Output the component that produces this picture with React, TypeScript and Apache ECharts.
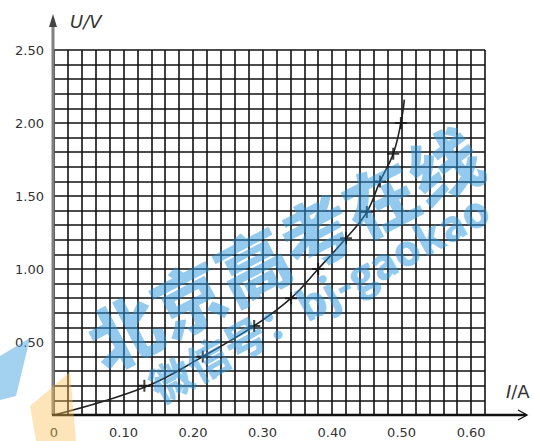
import React, { useEffect, useRef } from "react";
import * as echarts from "echarts";

// measured points (I in A, U in V)
const currentI = [0.13, 0.214, 0.288, 0.341, 0.38, 0.42, 0.45, 0.469, 0.488, 0.499];
const voltageU = [0.2, 0.4, 0.61, 0.8, 1.0, 1.21, 1.39, 1.6, 1.79, 2.0];
// fitted smooth curve drawn by hand through the points
const curveI = [0, 0.13, 0.214, 0.288, 0.341, 0.38, 0.42, 0.45, 0.469, 0.488, 0.499, 0.504];
const curveU = [0, 0.19, 0.4, 0.61, 0.8, 1.0, 1.21, 1.39, 1.6, 1.79, 2.0, 2.16];
// tick labels
const xTickValues = [0, 0.1, 0.2, 0.3, 0.4, 0.5, 0.6];
const xTickLabels = ["0", "0.10", "0.20", "0.30", "0.40", "0.50", "0.60"];
const yTickValues = [0.5, 1.0, 1.5, 2.0, 2.5];
const yTickLabels = ["0.50", "1.00", "1.50", "2.00", "2.50"];

const GL = 54, GT = 50, GR = 48, GB = 26;
const W = 533, H = 441;
const OX = GL, OY = H - GB;

const crossPath =
  "path://M5,0 L7,0 L7,5 L12,5 L12,7 L7,7 L7,12 L5,12 L5,7 L0,7 L0,5 L5,5 Z";

function labelFor(values: number[], labels: string[], v: number) {
  for (let i = 0; i < values.length; i++) {
    if (Math.abs(values[i] - v) < 1e-6) return labels[i];
  }
  return "";
}

export default function App() {
  const ref = useRef<HTMLDivElement>(null);
  useEffect(() => {
    if (!ref.current) return;
    const chart = echarts.init(ref.current, undefined, { renderer: "svg" });
    const font = "DejaVu Sans";
    chart.setOption({
      animation: false,
      backgroundColor: "#ffffff",
      grid: { left: GL, top: GT, right: GR, bottom: GB, containLabel: false },
      xAxis: {
        type: "value",
        min: 0,
        max: 0.62,
        interval: 0.02,
        axisLine: { show: false },
        axisTick: { show: false },
        splitLine: { show: true, lineStyle: { color: "#111", width: 1.6 } },
        axisLabel: {
          margin: 11,
          color: "#333",
          fontFamily: font,
          fontSize: 13,
          showMinLabel: true,
          formatter: (v: number) => labelFor(xTickValues, xTickLabels, v),
        },
      },
      yAxis: {
        type: "value",
        min: 0,
        max: 2.5,
        interval: 0.1,
        axisLine: { show: false },
        axisTick: { show: false },
        splitLine: { show: true, lineStyle: { color: "#111", width: 1.6 } },
        axisLabel: {
          margin: 10,
          color: "#333",
          fontFamily: font,
          fontSize: 13,
          formatter: (v: number) => labelFor(yTickValues, yTickLabels, v),
        },
      },
      series: [
        {
          type: "line",
          data: curveI.map((x, i) => [x, curveU[i]]),
          smooth: 0.4,
          showSymbol: false,
          symbol: "none",
          lineStyle: { color: "#222", width: 1.6 },
          z: 3,
        },
        {
          type: "scatter",
          data: currentI.map((x, i) => [x, voltageU[i]]),
          symbol: crossPath,
          symbolSize: 12,
          itemStyle: { color: "#111" },
          z: 4,
        },
      ],
      graphic: [
        // y axis with arrow
        {
          type: "line",
          z: 50,
          shape: { x1: OX - 1, y1: OY, x2: OX - 1, y2: 24 },
          style: { stroke: "#808080", lineWidth: 3 },
        },
        {
          type: "polygon",
          z: 50,
          shape: { points: [[OX - 1, 14], [OX - 5, 27], [OX + 3, 27]] },
          style: { fill: "#444" },
        },
        // x axis with arrow
        {
          type: "line",
          z: 50,
          shape: { x1: OX - 2, y1: OY, x2: 526, y2: OY },
          style: { stroke: "#111", lineWidth: 2.5 },
        },
        {
          type: "polyline",
          z: 50,
          shape: { points: [[518, OY - 5], [527, OY], [518, OY + 5]] },
          style: { stroke: "#111", lineWidth: 1.4, fill: null },
        },
        {
          type: "text",
          z: 50,
          x: 70,
          y: 12,
          style: {
            text: "U/V",
            fontFamily: font,
            fontSize: 18,
            fontStyle: "italic",
            fill: "#333",
          },
        },
        {
          type: "text",
          z: 50,
          x: 506,
          y: 382,
          style: {
            text: "{i|I}/A",
            fontFamily: font,
            fontSize: 18,
            fill: "#333",
            rich: { i: { fontStyle: "italic", fontFamily: font, fontSize: 18, fill: "#333" } },
          },
        },
        // watermark logo shapes
        {
          type: "polygon",
          z: 90,
          shape: { points: [[0, 356], [30, 338], [16, 396], [0, 400]] },
          style: { fill: "rgba(70,165,225,0.5)" },
        },
        {
          type: "polygon",
          z: 90,
          shape: { points: [[30, 406], [70, 372], [76, 441], [36, 441]] },
          style: { fill: "rgba(250,190,80,0.4)" },
        },
        // watermark text
        {
          type: "text",
          z: 100,
          x: 283,
          y: 246,
          rotation: (27.5 * Math.PI) / 180,
          style: {
            text: "北京高考在线",
            fontFamily: "Noto Sans CJK SC",
            fontWeight: 900,
            fontSize: 72,
            fill: "rgba(40,150,222,0.5)",
            align: "center",
            verticalAlign: "middle",
          },
        },
        {
          type: "text",
          z: 100,
          x: 318,
          y: 296,
          rotation: (29 * Math.PI) / 180,
          style: {
            text: "微信号：bj-gaokao",
            fontFamily: "Noto Sans CJK SC",
            fontWeight: 900,
            fontSize: 42,
            fill: "rgba(40,150,222,0.5)",
            align: "center",
            verticalAlign: "middle",
          },
        },
      ],
    });
    return () => chart.dispose();
  }, []);
  return (
    <div
      ref={ref}
      style={{ position: "fixed", left: 0, top: 0, width: W, height: H }}
    />
  );
}
